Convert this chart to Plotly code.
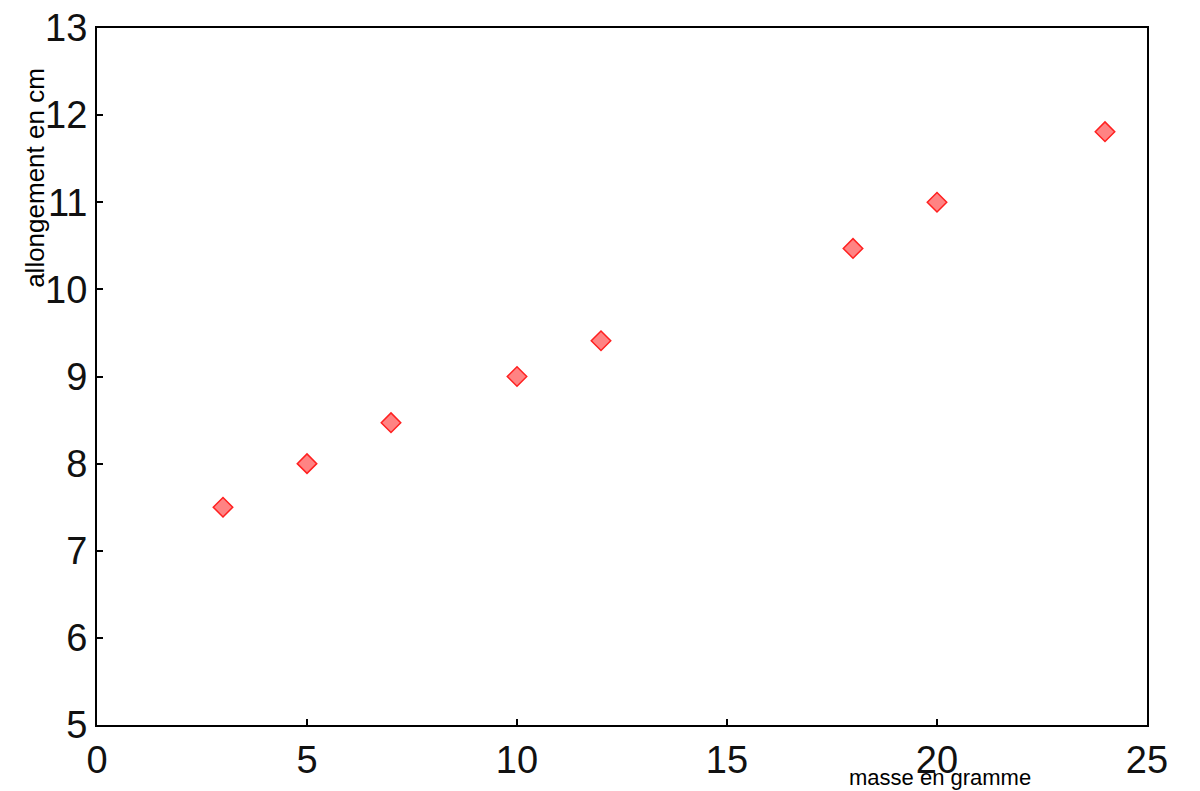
import plotly.graph_objects as go

masse = [3, 5, 7, 10, 12, 18, 20, 24]
allongement = [7.5, 8.0, 8.47, 9.0, 9.41, 10.47, 11.0, 11.81]
x_ticks = [0, 5, 10, 15, 20, 25]
y_ticks = [5, 6, 7, 8, 9, 10, 11, 12, 13]

fig = go.Figure()
fig.add_trace(go.Scatter(
    x=masse, y=allongement, mode="markers",
    marker=dict(symbol="diamond", size=15, color="rgba(255,90,90,0.75)",
                line=dict(color="#ff2020", width=1.5)),
    showlegend=False,
))

axis_common = dict(showgrid=False, zeroline=False, showline=True, mirror=True,
                   linecolor="black", linewidth=2, ticks="inside", ticklen=6,
                   tickcolor="black", tickwidth=2, automargin=False,
                   tickfont=dict(family="Liberation Sans, Arial", size=38, color="#111111"))

fig.update_xaxes(range=[0, 25], tickvals=x_ticks, **axis_common)
fig.update_yaxes(range=[5, 13], tickvals=y_ticks, **axis_common)

fig.add_annotation(text="masse en gramme", xref="paper", yref="paper",
                   x=0.803, xanchor="center", y=0, yanchor="middle", yshift=-52,
                   showarrow=False,
                   font=dict(family="Liberation Sans, Arial", size=22, color="black"))
fig.add_annotation(text="allongement en cm", xref="paper", yref="paper",
                   x=0, xanchor="center", xshift=-62, y=0.785, yanchor="middle",
                   textangle=-90, showarrow=False,
                   font=dict(family="Liberation Sans, Arial", size=26, color="black"))

fig.update_layout(width=1200, height=791, margin=dict(l=97, r=53, t=28, b=66),
                  paper_bgcolor="white", plot_bgcolor="white")

fig.write_html("out.html")
